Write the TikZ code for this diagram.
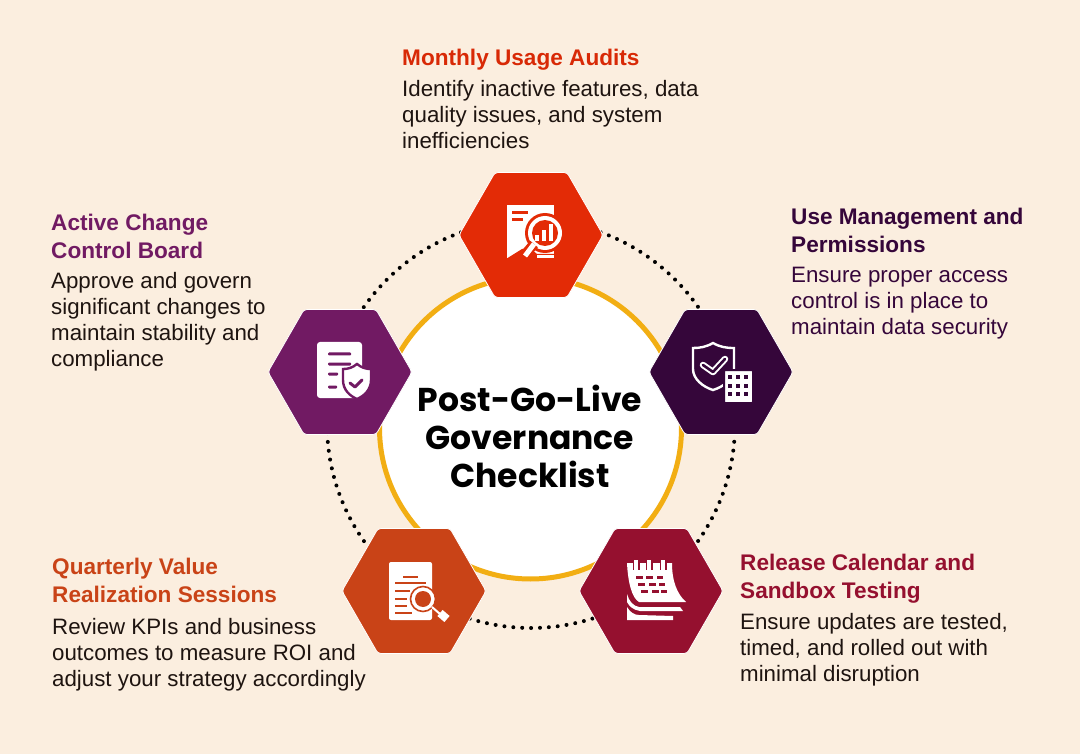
\documentclass[tikz,border=0pt]{standalone}
\usepackage{fontspec}
\setmainfont{Liberation Sans}
\newfontfamily\titlefont{Poppins}
\definecolor{bgc}{HTML}{FBEEDF}
\definecolor{redc}{HTML}{E32B06}
\definecolor{purc}{HTML}{711A63}
\definecolor{darkc}{HTML}{35063A}
\definecolor{orac}{HTML}{C94317}
\definecolor{crimc}{HTML}{95102F}
\definecolor{yelc}{HTML}{F2AE13}
\definecolor{txtc}{HTML}{1E1410}
\tikzset{
  hexa/.style={draw=white,line width=0.8pt,rounded corners=3pt},
  head/.style={anchor=north west,align=left,inner sep=0pt,font=\bfseries\fontsize{22.6}{28}\selectfont},
  body/.style={anchor=north west,align=left,inner sep=0pt,font=\fontsize{22.3}{26}\selectfont},
  ttl/.style={align=center,inner sep=0pt,font=\titlefont\bfseries\fontsize{33}{38}\selectfont,text=black},
  ico/.style={fill=white,draw=none},
}
\newcommand{\hexshape}[3]{% cx cy colour
  \filldraw[hexa,fill=#3] (#1-72,#2) -- (#1-36,#2-62.5) -- (#1+36,#2-62.5) -- (#1+72,#2) -- (#1+36,#2+62.5) -- (#1-36,#2+62.5) -- cycle;}
\begin{document}
\begin{tikzpicture}[x=1pt,y=-1pt]
\fill[bgc] (0,0) rectangle (1080,754);
\useasboundingbox (0,0) rectangle (1080,754);
\draw[line width=4pt,line cap=round,dash pattern=on 0pt off 8.9pt,black] (531,424) circle[radius=204];
\filldraw[fill=white,draw=yelc,line width=5pt] (530.5,428) circle[radius=151];
\hexshape{531}{235}{redc}
\hexshape{340}{372}{purc}
\hexshape{721}{372}{darkc}
\hexshape{414}{591}{orac}
\hexshape{651}{591}{crimc}
\node[ttl] (title) at (530,436) {Post-Go-Live\\Governance\\Checklist};
% top icon
\begin{scope}[shift={(531,235)}]
\fill[ico] (-24,-30) rectangle (23,23);
\fill[redc] (-19,-24) rectangle (-3,-21);
\fill[redc] (-19,-17) rectangle (-8,-14);
\fill[redc] (-25,24) -- (-9,14) -- (0,14) -- (6,19) -- (24,19) -- (24,24) -- cycle;
\fill[ico] (6,20) rectangle (23,23);
\fill[redc] (14,-2) circle[radius=20];
\fill[ico] (14,-2) circle[radius=17];
\fill[redc] (14,-2) circle[radius=13];
\draw[redc,line width=10pt] (3,9) -- (-8,22);
\draw[white,line width=5pt] (3,9) -- (-6,21);
\fill[ico] (4,0) rectangle (8,6);
\fill[ico] (11,-5) rectangle (15,6);
\fill[ico] (18,-11) rectangle (22,6);
\end{scope}
% left icon
\begin{scope}[shift={(340,372)}]
\fill[ico,rounded corners=3pt] (-23,-30) rectangle (22,26);
\fill[purc,rounded corners=1pt] (-12,-19.5) rectangle (11,-16.5);
\fill[purc,rounded corners=1pt] (-12,-9.5) rectangle (11,-6.5);
\fill[purc,rounded corners=1pt] (-12,0.5) rectangle (-2,3.5);
\fill[purc,rounded corners=1pt] (-12,13.5) rectangle (-3,16.5);
\filldraw[fill=white,draw=purc,line width=2.4pt] (17,-8) .. controls (12,-4) and (8,-3) .. (3,-3) -- (3,8) .. controls (3,18) and (10,24) .. (17,27) .. controls (24,24) and (31,18) .. (31,8) -- (31,-3) .. controls (26,-3) and (22,-4) .. (17,-8) -- cycle;
\draw[purc,line width=3pt,line cap=round,line join=round] (10,11) -- (15,15) -- (22,8);
\end{scope}
% right icon
\begin{scope}[shift={(721,372)}]
\draw[white,line width=2.4pt] (-8,-29) .. controls (-15,-25) and (-21,-24) .. (-28,-24) -- (-28,-3) .. controls (-28,7) and (-18,15) .. (-8,18) .. controls (2,15) and (13,7) .. (13,-3) -- (13,-24) .. controls (5,-24) and (-1,-25) .. (-8,-29) -- cycle;
\draw[white,line width=6.5pt,line join=round,line cap=round] (-18,-7) -- (-8,0) -- (4,-13);
\draw[darkc,line width=2.6pt,line join=round,line cap=round] (-18,-7) -- (-8,0) -- (4,-13);
\filldraw[fill=white,draw=darkc,line width=2pt,rounded corners=1pt] (3,-2) rectangle (32,31);
\foreach \dx in {9,17,25}{\foreach \dy in {5,14,22}{\fill[darkc] (\dx-2,\dy-2) rectangle (\dx+2,\dy+2);}}
\end{scope}
% bottom-left icon
\begin{scope}[shift={(414,591)}]
\fill[ico,rounded corners=2pt] (-25,-29) rectangle (18,29);
\fill[orac] (-11,-15) rectangle (4,-13);
\fill[orac] (-19,-9) rectangle (12,-7);
\foreach \y/\w in {-1/-4,7/-7,14/-7,21/-2}{\fill[orac] (-19,\y) rectangle (\w,\y+2);}
\filldraw[fill=white,draw=orac,line width=1.6pt] (9,8) circle[radius=12.5];
\fill[orac] (9,8) circle[radius=8];
\draw[orac,line width=11pt] (25,21) -- (34,29);
\draw[white,line width=2pt] (18,16) -- (26,23);
\draw[white,line width=8pt] (26,22) -- (33,28);
\end{scope}
% bottom-right icon
\begin{scope}[shift={(651,591)}]
\fill[ico] (-24,16) .. controls (-21,21) and (-17,24) .. (-12,24) -- (22,25) -- (22,29) -- (-24,29) -- cycle;
\fill[ico] (-24,3) .. controls (-22,10) and (-18,15) .. (-12,16) -- (29,16) -- (32,20) -- (-11,20) .. controls (-18,19) and (-22,15) .. (-24,11) -- cycle;
\fill[ico] (-24,-28) -- (21,-28) .. controls (21,-10) and (26,3) .. (35,11) -- (-12,11) .. controls (-19,7) and (-23,-8) .. (-24,-28) -- cycle;
\foreach \dx in {-15,-2,12}{\fill[crimc] (\dx-3.5,-28) rectangle (\dx+3.5,-21);\fill[ico] (\dx-2,-31) rectangle (\dx+2,-21);}
\foreach \a/\b in {-15/-8,-5/2,6/12}{\fill[crimc] (\a,-15.5) rectangle (\b,-12.5);}
\foreach \a/\b in {-13/-6,-2/5,8/14}{\fill[crimc] (\a,-8.5) rectangle (\b,-5.5);}
\foreach \a/\b in {-10/-3,1/8,10/16}{\fill[crimc] (\a,-1.5) rectangle (\b,1.5);}
\end{scope}
% labels
\node[head,text=redc!95!black] (h1) at (402,49) {Monthly Usage Audits};
\node[body,text=txtc] (b1) at (402,80) {Identify inactive features, data\\quality issues, and system\\inefficiencies};
\node[head,text=purc] (h2) at (51,214) {Active Change\\Control Board};
\node[body,text=txtc] (b2) at (51,272) {Approve and govern\\significant changes to\\maintain stability and\\compliance};
\node[head,text=darkc] (h3) at (791,208) {Use Management and\\Permissions};
\node[body,text=darkc] (b3) at (791,267) {Ensure proper access\\control is in place to\\maintain data security};
\node[head,text=orac] (h4) at (52,558) {Quarterly Value\\Realization Sessions};
\node[body,text=txtc] (b4) at (52,618) {Review KPIs and business\\outcomes to measure ROI and\\adjust your strategy accordingly};
\node[head,text=crimc] (h5) at (740,554) {Release Calendar and\\Sandbox Testing};
\node[body,text=txtc] (b5) at (740,613) {Ensure updates are tested,\\timed, and rolled out with\\minimal disruption};
\end{tikzpicture}
\end{document}
